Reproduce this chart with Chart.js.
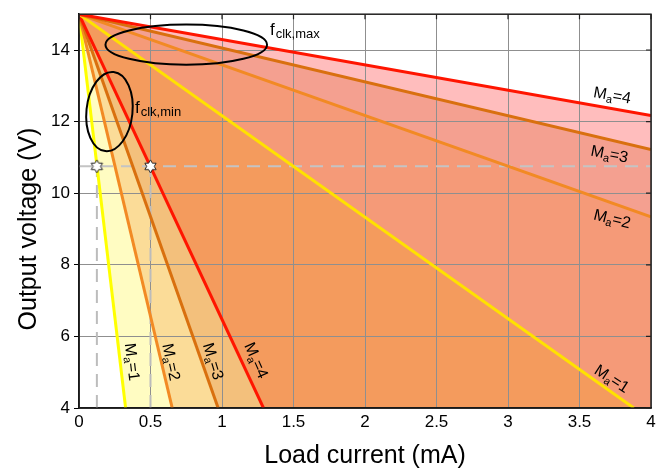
<!DOCTYPE html>
<html>
<head>
<meta charset="utf-8">
<script src="https://cdn.jsdelivr.net/npm/chart.js@4"></script>
<style>
  html, body { margin: 0; padding: 0; background: #fff; }
  #wrap { width: 672px; height: 472px; position: relative; }
</style>
</head>
<body>
<div id="wrap"><canvas id="chart"></canvas></div>
<script>
// axis ticks
const xTicks = [0, 0.5, 1, 1.5, 2, 2.5, 3, 3.5, 4];
const yTicks = [4, 6, 8, 10, 12, 14];

// every load line starts at 0 mA / 15 V
const maNames = ['1', '2', '3', '4'];
const vStart = 15;
// f_clk,min lines: current where they reach 4 V
const fminEndX = [0.326, 0.652, 0.973, 1.29];
// f_clk,max lines: end points
const fmaxEndX = [3.88, 4, 4, 4];
const fmaxEndY = [4, 9.34, 11.22, 12.17];

// operating point markers
const markX = [0.125, 0.5];
const markY = 10.75;

const FONT = '"Liberation Sans", Arial, Helvetica, sans-serif';
const lineColMin = ['#ffff00', '#f28a24', '#d9700f', '#ff1500'];
const lineColMax = ['#ffe100', '#f28a24', '#d9700f', '#ff1500'];
const fillColMin = ['#fffcc2', '#fbdc98', '#f3c07c', '#f49b5d'];
const fillColMax = ['#f59a78', '#f4a090', '#ffbdbd', '#ffffff'];

const X0 = 0, X1 = 4, Y0 = 4;

function makeStar(R) {
  const c = document.createElement('canvas');
  const s = Math.ceil(R * 2 + 4);
  c.width = c.height = s;
  const g = c.getContext('2d');
  g.translate(s / 2, s / 2);
  g.beginPath();
  for (let i = 0; i < 12; i++) {
    const r = i % 2 ? R * 0.577 : R;
    const a = -Math.PI / 2 + i * Math.PI / 6;
    g.lineTo(r * Math.cos(a), r * Math.sin(a));
  }
  g.closePath();
  g.fillStyle = '#fff';
  g.fill();
  g.strokeStyle = '#222';
  g.lineWidth = 1;
  g.stroke();
  return c;
}

const minLines = fminEndX.map(x => [{x: X0, y: vStart}, {x: x, y: Y0}]);
const maxLines = fmaxEndX.map((x, i) => [{x: X0, y: vStart}, {x: x, y: fmaxEndY[i]}]);
// fill polygons: line, then along the bottom to the right edge when needed
const withCorner = pts => pts[1].x < X1 ? pts.concat([{x: X1, y: Y0}]) : pts;

const datasets = [];
// stars on top
datasets.push({
  data: markX.map(x => ({x, y: markY})),
  showLine: false, pointStyle: makeStar(6.5), pointRadius: 7, borderWidth: 0
});
// colored lines (max ones first)
for (let i = 3; i >= 0; i--) {
  datasets.push({data: maxLines[i], borderColor: lineColMax[i], borderWidth: 3, pointRadius: 0, fill: false});
}
for (let i = 3; i >= 0; i--) {
  datasets.push({data: minLines[i], borderColor: lineColMin[i], borderWidth: 3, pointRadius: 0, fill: false});
}
// dashed guides
datasets.push({data: [{x: X0, y: markY}, {x: X1, y: markY}], borderColor: '#c4c4c4', borderWidth: 2, borderDash: [13, 8], pointRadius: 0, fill: false});
markX.forEach(x => {
  datasets.push({data: [{x, y: Y0}, {x, y: markY}], borderColor: '#bcbcbc', borderWidth: 2, borderDash: [13, 8], pointRadius: 0, fill: false});
});
// filled wedges, drawn from last to first
for (let i = 3; i >= 0; i--) {
  datasets.push({data: withCorner(maxLines[i]), borderColor: 'rgba(0,0,0,0)', backgroundColor: fillColMax[i], pointRadius: 0, fill: 'end'});
}
for (let i = 3; i >= 0; i--) {
  datasets.push({data: withCorner(minLines[i]), borderColor: 'rgba(0,0,0,0)', backgroundColor: fillColMin[i], pointRadius: 0, fill: 'end'});
}

function drawMa(ctx, x, y, deg, n) {
  ctx.save();
  ctx.translate(x, y);
  ctx.rotate(deg * Math.PI / 180);
  ctx.fillStyle = '#000';
  ctx.textBaseline = 'alphabetic';
  ctx.textAlign = 'left';
  const big = '16px ' + FONT, small = '11px ' + FONT;
  ctx.font = big;
  const wM = ctx.measureText('M').width;
  const wR = ctx.measureText('=' + n).width;
  ctx.font = small;
  const wa = ctx.measureText('a').width;
  let sx = -(wM + wa + wR) / 2;
  ctx.font = big;
  ctx.fillText('M', sx, 6);
  ctx.font = small;
  ctx.fillText('a', sx + wM, 9);
  ctx.font = big;
  ctx.fillText('=' + n, sx + wM + wa, 6);
  ctx.restore();
}

function drawSubLabel(ctx, x, y, main, sub) {
  ctx.save();
  ctx.fillStyle = '#000';
  ctx.textBaseline = 'alphabetic';
  ctx.textAlign = 'left';
  ctx.font = '17px ' + FONT;
  ctx.fillText(main, x, y);
  const w = ctx.measureText(main).width;
  ctx.font = '13px ' + FONT;
  ctx.fillText(sub, x + w + 1, y + 3);
  ctx.restore();
}

const notes = {
  id: 'notes',
  afterDatasetsDraw(chart) {
    const ctx = chart.ctx;
    const sx = chart.scales.x, sy = chart.scales.y;
    const px = v => sx.getPixelForValue(v), py = v => sy.getPixelForValue(v);

    // ellipses
    ctx.save();
    ctx.strokeStyle = '#000';
    ctx.lineWidth = 2;
    [[0.75, 14.15, 0.565, 0.56, 0], [0.213, 12.28, 0.161, 1.11, 6]].forEach(e => {
      const cx = px(e[0]), cy = py(e[1]);
      const rx = px(e[0] + e[2]) - cx, ry = cy - py(e[1] + e[3]);
      ctx.beginPath();
      ctx.ellipse(cx, cy, rx, ry, e[4] * Math.PI / 180, 0, Math.PI * 2);
      ctx.stroke();
    });
    ctx.restore();

    drawSubLabel(ctx, 270, 35, 'f', 'clk,max');
    drawSubLabel(ctx, 135, 113, 'f', 'clk,min');

    // M_a labels beside the lines
    [[3.73, 12.76, 10], [3.71, 11.12, 11], [3.73, 9.31, 14], [3.73, 4.84, 33]].forEach((p, k) => {
      drawMa(ctx, px(p[0]), py(p[1]), p[2], maNames[3 - k]);
    });
    [[0.378, 5.29, 83], [0.65, 5.29, 78], [0.944, 5.31, 73], [1.245, 5.34, 66]].forEach((p, k) => {
      drawMa(ctx, px(p[0]), py(p[1]), p[2], maNames[k]);
    });
  },
  afterDraw(chart) {
    const ctx = chart.ctx;
    const a = chart.chartArea;
    const sx = chart.scales.x, sy = chart.scales.y;
    ctx.save();
    ctx.strokeStyle = '#222';
    ctx.lineWidth = 1.5;
    ctx.strokeRect(a.left, a.top, a.right - a.left, a.bottom - a.top);
    ctx.lineWidth = 1.2;
    ctx.beginPath();
    xTicks.forEach(v => { const x = sx.getPixelForValue(v); ctx.moveTo(x, a.top); ctx.lineTo(x, a.top + 5); });
    yTicks.forEach(v => { const y = sy.getPixelForValue(v); ctx.moveTo(a.right, y); ctx.lineTo(a.right - 5, y); });
    ctx.stroke();
    // y axis title
    ctx.translate(29, 229);
    ctx.rotate(-Math.PI / 2);
    ctx.fillStyle = '#000';
    ctx.font = '25px ' + FONT;
    ctx.textAlign = 'center';
    ctx.textBaseline = 'middle';
    ctx.fillText('Output voltage (V)', 0, 0);
    ctx.restore();
  }
};

new Chart(document.getElementById('chart'), {
  type: 'line',
  data: {datasets},
  options: {
    responsive: true,
    maintainAspectRatio: false,
    animation: false,
    devicePixelRatio: 1,
    layout: {padding: {left: 0, right: 21, top: 13, bottom: 0}},
    elements: {line: {tension: 0}},
    plugins: {
      legend: {display: false},
      tooltip: {enabled: false},
      filler: {drawTime: 'beforeDraw'}
    },
    scales: {
      x: {
        type: 'linear', min: X0, max: X1,
        afterBuildTicks: s => { s.ticks = xTicks.map(v => ({value: v})); },
        afterFit: s => { s.height = 64; },
        ticks: {color: '#000', font: {size: 17, family: FONT}, padding: 4, maxRotation: 0, autoSkip: false, callback: v => String(v)},
        grid: {color: '#8f8f8f', lineWidth: 1, drawTicks: false},
        border: {color: '#000', width: 1.5},
        title: {display: true, text: 'Load current (mA)', color: '#000', font: {size: 25, family: FONT}, padding: {top: 0, bottom: 1}}
      },
      y: {
        type: 'linear', min: Y0, max: vStart,
        afterBuildTicks: s => { s.ticks = yTicks.map(v => ({value: v})); },
        afterFit: s => { s.width = 79; },
        ticks: {color: '#000', font: {size: 17, family: FONT}, padding: 4, callback: v => String(v)},
        grid: {color: '#8f8f8f', lineWidth: 1, tickLength: 5, tickColor: '#000'},
        border: {color: '#000', width: 1.5}
      }
    }
  },
  plugins: [notes]
});
</script>
</body>
</html>
